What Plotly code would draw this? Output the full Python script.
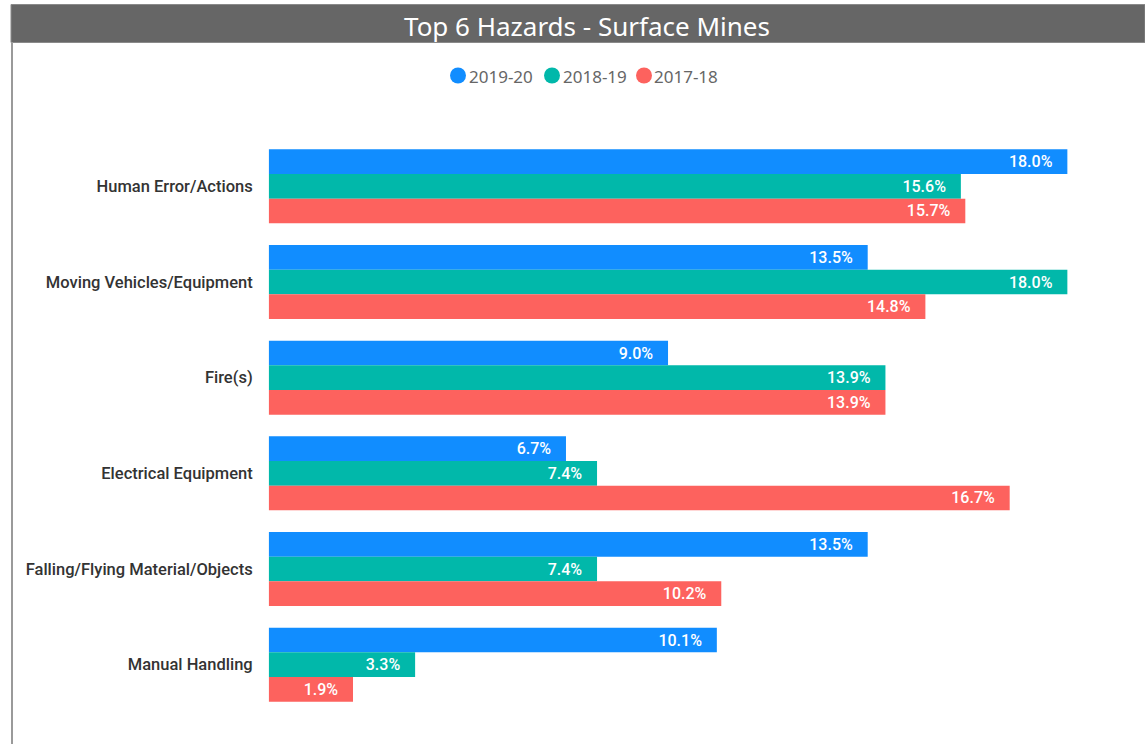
import plotly.graph_objects as go

# Hazard categories (top to bottom) and share of incidents per financial year (%)
categories = [
    "Human Error/Actions",
    "Moving Vehicles/Equipment",
    "Fire(s)",
    "Electrical Equipment",
    "Falling/Flying Material/Objects",
    "Manual Handling",
]
years = ["2019-20", "2018-19", "2017-18"]
values_2019_20 = [18.0, 13.5, 9.0, 6.7, 13.5, 10.1]
values_2018_19 = [15.6, 18.0, 13.9, 7.4, 7.4, 3.3]
values_2017_18 = [15.7, 14.8, 13.9, 16.7, 10.2, 1.9]
series = [values_2019_20, values_2018_19, values_2017_18]
colors = ["#118DFF", "#01B8AA", "#FD625E"]

W, H = 1145, 744


def px(x):
    return x / W


def py(y):
    return 1 - y / H


fig = go.Figure()
for name, vals, col in zip(years, series, colors):
    fig.add_trace(go.Bar(
        y=categories, x=vals, name=name, orientation="h",
        marker=dict(color=col, line=dict(width=0)),
        texttemplate="%{x:.1f}%\u00a0\u00a0\u00a0",
        textposition="inside", insidetextanchor="end",
        textfont=dict(family="Roboto", size=16, color="white", weight=500),
        constraintext="none", showlegend=False, hoverinfo="skip",
    ))

x_left, x_right = 268.7, 1130
scale = 44.37
fig.update_xaxes(
    domain=[px(x_left), px(x_right)], range=[0, (x_right - x_left) / scale],
    visible=False, showgrid=False, zeroline=False,
)
fig.update_yaxes(
    domain=[py(712.5), py(138.5)], categoryorder="array", categoryarray=categories,
    autorange="reversed", showgrid=False, zeroline=False, showline=False,
    ticks="", ticklabelstandoff=15, automargin=False,
    tickfont=dict(family="Roboto", size=16.5, color="#333333", weight=500),
)

# Header band, frame line and title
shapes = [
    dict(type="rect", xref="paper", yref="paper", x0=px(11), x1=px(1145), y0=py(42.5), y1=py(4.5),
         fillcolor="#666666", line=dict(color="#8a8a8a", width=1), layer="above"),
    dict(type="line", xref="paper", yref="paper", x0=px(12), x1=px(12), y0=py(42), y1=py(744),
         line=dict(color="#9a9a9a", width=2)),
]
annotations = [
    dict(text="Top 6 Hazards - Surface Mines", xref="paper", yref="paper", x=px(587), y=py(26),
         xanchor="center", yanchor="middle", showarrow=False,
         font=dict(family="Noto Sans", size=26, color="white")),
]

# Legend: circle markers with year labels
legend_circle_x = [458, 552, 644]
legend_text_x = [467, 561, 652]
for name, col, cx, tx in zip(years, colors, legend_circle_x, legend_text_x):
    shapes.append(dict(type="circle", xref="paper", yref="paper",
                       x0=px(cx - 8), x1=px(cx + 8), y0=py(75.5 + 8), y1=py(75.5 - 8),
                       fillcolor=col, line=dict(width=0)))
    annotations.append(dict(text=name, xref="paper", yref="paper", x=px(tx), y=py(76),
                            xanchor="left", yanchor="middle", showarrow=False,
                            font=dict(family="Noto Sans", size=17, color="#666666")))

fig.update_layout(
    width=W, height=H, margin=dict(l=0, r=0, t=0, b=0),
    paper_bgcolor="white", plot_bgcolor="white",
    barmode="group", bargap=0.227, bargroupgap=0,
    shapes=shapes, annotations=annotations, showlegend=False,
    uniformtext=dict(mode=False),
)

fig.write_html("out.html")
